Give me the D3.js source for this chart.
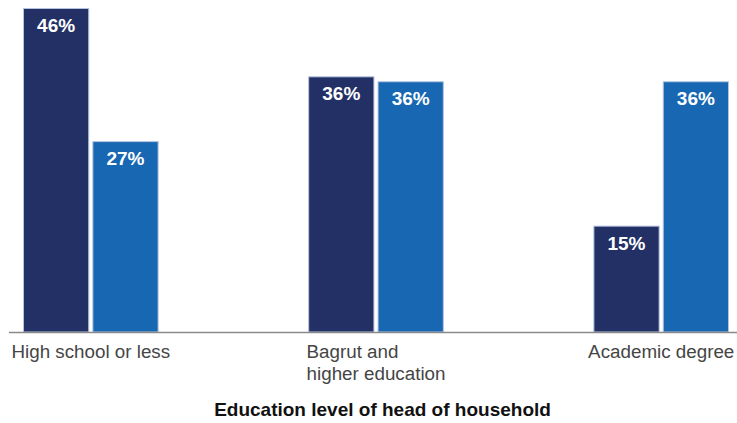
<!DOCTYPE html>
<html><head><meta charset="utf-8">
<script src="https://cdn.jsdelivr.net/npm/d3@7"></script>
<style>body{margin:0;background:#fff}svg{display:block}</style>
</head><body>
<svg id="c" width="737" height="423"></svg>
<script>
const categories = [["High school or less"], ["Bagrut and", "higher education"], ["Academic degree"]];
const seriesNames = ["Series A", "Series B"];
const seriesA = [46, 36.3, 15.1];
const seriesB = [27.1, 35.6, 35.6];
const axisTitle = "Education level of head of household";
const colors = ["#223066", "#1767b2"];

const svg = d3.select("#c");
const keys = categories.map(c => c.join(" "));
const data = keys.map((k, i) => ({ key: k, lines: categories[i], values: [seriesA[i], seriesB[i]] }));

const y = d3.scaleLinear().domain([0, 46]).range([332, 8]);
const x0 = d3.scaleBand().domain(keys).range([23, 729]).paddingInner(0.5245).paddingOuter(0);
const x1 = d3.scaleBand().domain(seriesNames).range([0, x0.bandwidth()]).paddingInner(0.045);

const g = svg.selectAll("g.grp").data(data).join("g").attr("class", "grp")
  .attr("transform", d => `translate(${x0(d.key)},0)`);

g.selectAll("rect").data(d => d.values.map((v, j) => ({ v, s: seriesNames[j], j })))
  .join("rect")
  .attr("x", d => x1(d.s) + 0.5)
  .attr("y", d => y(d.v) + 0.5)
  .attr("width", x1.bandwidth() - 1)
  .attr("height", d => y(0) - y(d.v) - 0.5)
  .attr("fill", d => colors[d.j])
  .attr("stroke", "#b4c3df")
  .attr("stroke-width", 1);

g.selectAll("text.val").data(d => d.values.map((v, j) => ({ v, s: seriesNames[j], j })))
  .join("text").attr("class", "val")
  .attr("x", d => x1(d.s) + x1.bandwidth() / 2)
  .attr("y", d => y(d.v) + 24)
  .attr("text-anchor", "middle")
  .attr("fill", "#fff")
  .attr("font-family", "Liberation Sans, Arial, sans-serif")
  .attr("font-weight", "bold")
  .attr("font-size", 19)
  .text(d => Math.round(d.v) + "%");

// axis line
svg.append("line").attr("x1", 9).attr("x2", 737).attr("y1", y(0) + 0.5).attr("y2", y(0) + 0.5)
  .attr("stroke", "#8a8a8a").attr("stroke-width", 1.5);

// category labels: left-aligned lines, block centered on group
g.each(function(d) {
  const t = d3.select(this).append("text")
    .attr("font-family", "Liberation Sans, Arial, sans-serif")
    .attr("font-size", 18.8).attr("fill", "#454545");
  d.lines.forEach((ln, i) => t.append("tspan").attr("x", 0).attr("y", 358 + i * 22).text(ln));
  const bb = t.node().getBBox();
  const shift = x0.bandwidth() / 2 - bb.width / 2;
  t.selectAll("tspan").attr("x", shift);
});

svg.append("text").attr("x", 382.5).attr("y", 416).attr("text-anchor", "middle")
  .attr("font-family", "Liberation Sans, Arial, sans-serif")
  .attr("font-weight", "bold").attr("font-size", 19).attr("fill", "#111")
  .text(axisTitle);
</script>
</body></html>
